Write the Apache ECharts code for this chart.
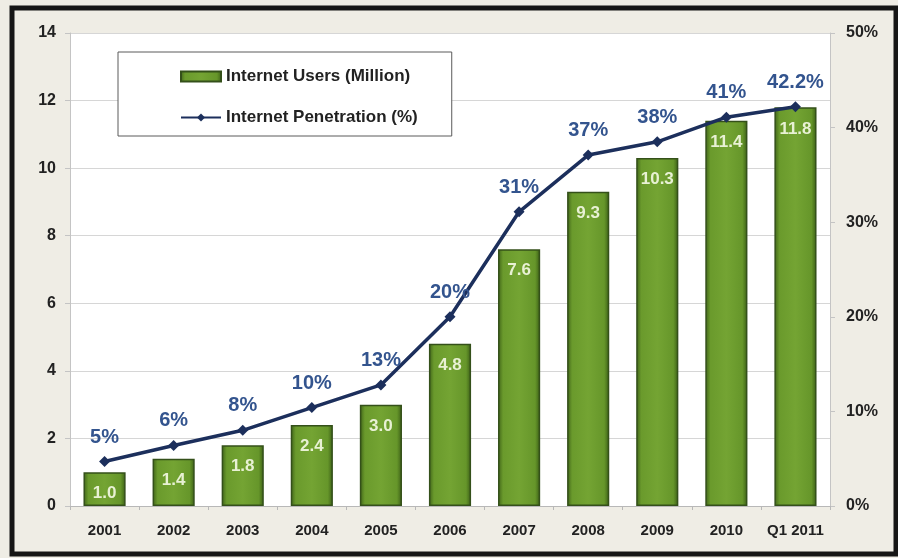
<!DOCTYPE html>
<html lang="en">
<head>
    <meta charset="UTF-8">
    <script src="https://cdn.jsdelivr.net/npm/echarts@6/dist/echarts.min.js"></script>
    <title>Internet users and penetration</title>
    <style>
        html, body { margin: 0; padding: 0; background: #fff; }
        #main { width: 898px; height: 558px; }
    </style>
</head>
<body>
<div id="main"></div>
<script type="text/javascript">
    // values
    var years = ['2001', '2002', '2003', '2004', '2005', '2006', '2007', '2008', '2009', '2010', 'Q1 2011'];
    var users = [1.0, 1.4, 1.8, 2.4, 3.0, 4.8, 7.6, 9.3, 10.3, 11.4, 11.8];
    var penetration = [4.7, 6.4, 8.0, 10.4, 12.8, 20.0, 31.1, 37.1, 38.5, 41.1, 42.2];
    var penetrationLabels = ['5%', '6%', '8%', '10%', '13%', '20%', '31%', '37%', '38%', '41%', '42.2%'];

    var chart = echarts.init(document.getElementById('main'));
    var font = 'Liberation Sans, Arial, sans-serif';

    var barColor = new echarts.graphic.LinearGradient(0, 0, 1, 0, [
        { offset: 0, color: '#3f6318' },
        { offset: 0.12, color: '#6a9a2c' },
        { offset: 0.5, color: '#74a433' },
        { offset: 0.88, color: '#66962a' },
        { offset: 1, color: '#3b5e16' }
    ]);

    chart.setOption({
        backgroundColor: '#efede5',
        animation: false,
        textStyle: { fontFamily: font },
        graphic: [{
            type: 'rect',
            z: 100,
            silent: true,
            shape: { x: 12, y: 8, width: 884, height: 546 },
            style: { fill: 'none', stroke: '#161616', lineWidth: 5 }
        }],
        grid: {
            left: 70, right: 68, top: 33, bottom: 52,
            show: true, backgroundColor: '#ffffff', borderWidth: 0
        },
        legend: {
            left: 118, top: 52,
            orient: 'vertical',
            backgroundColor: '#ffffff',
            borderColor: '#5a5a5a',
            borderWidth: 1,
            padding: [16, 34, 10, 62],
            itemGap: 24,
            itemWidth: 40,
            itemHeight: 10,
            textStyle: { fontFamily: font, fontWeight: 'bold', fontSize: 17, color: '#222' },
            data: [
                { name: 'Internet Users (Million)', icon: 'rect' },
                { name: 'Internet Penetration (%)' }
            ]
        },
        xAxis: {
            type: 'category',
            data: years,
            axisLine: { lineStyle: { color: '#b8b8b8' } },
            axisTick: { show: true, length: 4, lineStyle: { color: '#b8b8b8' } },
            axisLabel: { interval: 0, margin: 17, fontFamily: font, fontWeight: 'bold', fontSize: 15, color: '#222' }
        },
        yAxis: [{
            type: 'value',
            min: 0, max: 14, interval: 2,
            axisLine: { show: true, lineStyle: { color: '#c4c4c4' } },
            axisTick: { show: true, length: 5, lineStyle: { color: '#c4c4c4' } },
            splitLine: { lineStyle: { color: '#d6d6d6' } },
            axisLabel: { margin: 14, fontFamily: font, fontWeight: 'bold', fontSize: 16, color: '#222' }
        }, {
            type: 'value',
            min: 0, max: 50, interval: 10,
            position: 'right',
            axisLine: { show: true, lineStyle: { color: '#c4c4c4' } },
            axisTick: { show: true, length: 5, lineStyle: { color: '#c4c4c4' } },
            splitLine: { show: false },
            axisLabel: { margin: 16, formatter: '{value}%', fontFamily: font, fontWeight: 'bold', fontSize: 16, color: '#222' }
        }],
        series: [{
            name: 'Internet Users (Million)',
            type: 'bar',
            data: users,
            barWidth: '61%',
            itemStyle: { color: barColor, borderColor: '#34501a', borderWidth: 1.5 },
            label: {
                show: true,
                position: 'insideTop',
                distance: 13,
                formatter: function (p) { return p.value.toFixed(1); },
                fontFamily: font, fontWeight: 'bold', fontSize: 17, color: '#e8f1d4'
            }
        }, {
            name: 'Internet Penetration (%)',
            type: 'line',
            yAxisIndex: 1,
            data: penetration,
            z: 5,
            symbol: 'diamond',
            symbolSize: 11,
            lineStyle: { color: '#1c2f5c', width: 3.5 },
            itemStyle: { color: '#1c2f5c' },
            label: {
                show: true,
                position: 'top',
                distance: 9,
                formatter: function (p) { return penetrationLabels[p.dataIndex]; },
                fontFamily: font, fontWeight: 'bold', fontSize: 20, color: '#33548e'
            }
        }]
    });
</script>
</body>
</html>
